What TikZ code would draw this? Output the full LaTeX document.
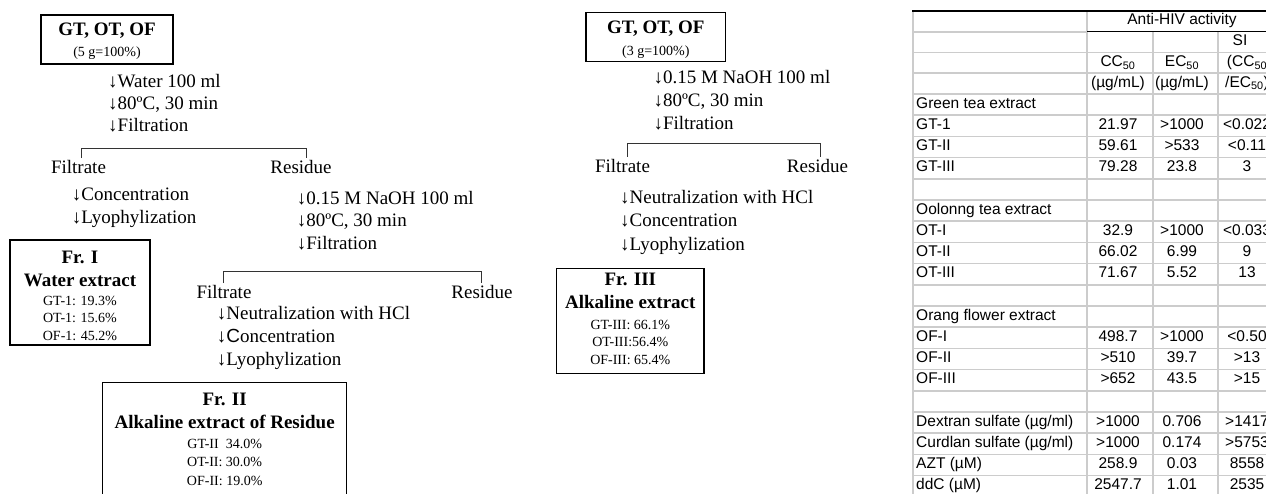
\documentclass[tikz,border=0pt]{standalone}
\usepackage{fontspec}
\setmainfont{Liberation Serif}
\setsansfont{Liberation Sans}

\begin{document}
\begin{tikzpicture}[x=1pt,y=-1pt,
  every node/.style={inner sep=0pt,text height=.66em,text depth=0pt},
  stepline/.style={anchor=west,font=\fontsize{19}{19}\selectfont},
  txt/.style={font=\fontsize{19}{19}\selectfont},
  title/.style={font=\bfseries\fontsize{19}{19}\selectfont},
  small/.style={font=\fontsize{14}{14}\selectfont},
  frbox/.style={draw,line width=1.1pt},
  bracket/.style={draw=black!80,line width=.9pt},
  cell/.style={font=\sffamily\fontsize{15.5}{15.5}\selectfont,text height=.716em},
  grid/.style={draw=black!20,line width=1.6pt},
  rule/.style={draw=black,line width=1.3pt}]
  \clip (0,0) rectangle (1266,493);

  % Water extraction
  \node[frbox,minimum width=132pt,minimum height=49pt] (start1) at (107,39.5) {};
  \node[title] (mix1) at (107,32) {GT, OT, OF};
  \node[small] (amt1) at (107,52.7) {(5 g=100\%)};
  \node[stepline] (w1) at (108,84) {↓Water 100 ml};
  \node[stepline] (w2) at (108,106) {↓80ºC, 30 min};
  \node[stepline] (w3) at (108,128) {↓Filtration};
  \coordinate (b1l) at (81,158);
  \coordinate (b1r) at (306,158);
  \draw[bracket] (b1l) -- ++(0,-10) -| (b1r);
  \node[txt] (filt1) at (78.5,170) {Filtrate};
  \node[txt] (res1) at (301,170) {Residue};
  \node[stepline] (c1) at (71.7,197) {↓Concentration};
  \node[stepline] (l1) at (71.7,220) {↓Lyophylization};
  \node[frbox,minimum width=140pt,minimum height=105pt] (fr1) at (80,292.5) {};
  \node[title] (fr1a) at (80,260) {Fr. I};
  \node[title] (fr1b) at (80,282.7) {Water extract};
  \node[small] (fr1c) at (80,301.7) {GT-1: 19.3\%};
  \node[small] (fr1d) at (80,319) {OT-1: 15.6\%};
  \node[small] (fr1e) at (80,336.7) {OF-1: 45.2\%};

  % alkaline extraction of the residue
  \node[stepline] (n1) at (296.7,201) {↓0.15 M NaOH 100 ml};
  \node[stepline] (n2) at (296.7,223) {↓80ºC, 30 min};
  \node[stepline] (n3) at (296.7,246) {↓Filtration};
  \coordinate (b2l) at (223,283);
  \coordinate (b2r) at (481.7,283);
  \draw[bracket] (b2l) -- ++(0,-11.3) -| (b2r);
  \node[txt] (filt2) at (224,295) {Filtrate};
  \node[txt] (res2) at (482,295) {Residue};
  \node[stepline] (h1) at (216.7,316) {↓Neutralization with HCl};
  \node[stepline] (h2) at (216.7,339) {↓{\sffamily C}oncentration};
  \node[stepline] (h3) at (216.7,362) {↓Lyophylization};
  \node[frbox,minimum width=244pt,minimum height=130pt] (fr2) at (224.7,447.7) {};
  \node[title] (fr2a) at (224.7,401.7) {Fr. II};
  \node[title] (fr2b) at (224.7,425) {Alkaline extract of Residue};
  \node[small] (fr2c) at (224.7,445) {GT-II\ \ 34.0\%};
  \node[small] (fr2d) at (224.7,463) {OT-II: 30.0\%};
  \node[small] (fr2e) at (224.7,481.7) {OF-II: 19.0\%};

  % direct alkaline extraction
  \node[frbox,minimum width=139.7pt,minimum height=49.4pt] (start2) at (655.8,37) {};
  \node[title] (mix2) at (655.8,30) {GT, OT, OF};
  \node[small] (amt2) at (655.8,51.7) {(3 g=100\%)};
  \node[stepline] (a1) at (653.3,80) {↓0.15 M NaOH 100 ml};
  \node[stepline] (a2) at (653.3,103) {↓80ºC, 30 min};
  \node[stepline] (a3) at (653.3,126) {↓Filtration};
  \coordinate (b3l) at (627.3,156.7);
  \coordinate (b3r) at (820.7,156.7);
  \draw[bracket] (b3l) -- ++(0,-13.4) -| (b3r);
  \node[txt] (filt3) at (622.5,169.3) {Filtrate};
  \node[txt] (res3) at (817.5,169.3) {Residue};
  \node[stepline] (k1) at (620,200) {↓Neutralization with HCl};
  \node[stepline] (k2) at (620,223.3) {↓Concentration};
  \node[stepline] (k3) at (620,246.7) {↓Lyophylization};
  \node[frbox,minimum width=147.3pt,minimum height=105pt] (fr3) at (630.3,320.8) {};
  \node[title] (fr3a) at (630.3,281.7) {Fr. III};
  \node[title] (fr3b) at (630.3,305) {Alkaline extract};
  \node[small] (fr3c) at (630.3,326) {GT-III: 66.1\%};
  \node[small] (fr3d) at (630.3,343.3) {OT-III:56.4\%};
  \node[small] (fr3e) at (630.3,361) {OF-III: 65.4\%};

  % table grid
  \foreach \y in {52.5,73.25,94}
    \draw[grid] (913,\y) -- (1290,\y);
  \draw[grid] (913,31.75) -- (1087,31.75);
  \foreach \i in {1,...,19}
    \draw[grid] (913,{94+21.2*\i}) -- (1290,{94+21.2*\i});
  \draw[grid] (913,11) -- (913,500);
  \draw[grid] (1087,11) -- (1087,500);
  \draw[grid] (1153,31.75) -- (1153,500);
  \draw[grid] (1218,31.75) -- (1218,500);
  \draw[rule] (912.2,11) -- (1290,11);
  \draw[rule] (1087,31.75) -- (1290,31.75);

  % table head
  \node[cell] (hiv) at (1182,21.4) {Anti-HIV activity};
  \node[cell] (si) at (1240,42.1) {SI};
  \node[cell] (cc) at (1118,62.9) {CC\textsubscript{50}};
  \node[cell] (ec) at (1182,62.9) {EC\textsubscript{50}};
  \node[cell] (sia) at (1247,62.9) {(CC\textsubscript{50}};
  \node[cell] (ccu) at (1118,83.6) {(µg/mL)};
  \node[cell] (ecu) at (1182,83.6) {(µg/mL)};
  \node[cell] (sib) at (1247,83.6) {/EC\textsubscript{50})};

  % table body
  \foreach \i/\lab in {1/Green tea extract,6/Oolonng tea extract,11/Orang flower extract}
    \node[cell,anchor=west] (grp\i) at (916,{94+21.2*(\i-0.5)}) {\lab};
  \foreach \i/\lab/\a/\b/\c in {2/GT-1/21.97/>1000/<0.022,3/GT-II/59.61/>533/<0.11,
      4/GT-III/79.28/23.8/3,7/OT-I/32.9/>1000/<0.033,8/OT-II/66.02/6.99/9,
      9/OT-III/71.67/5.52/13,12/OF-I/498.7/>1000/<0.50,13/OF-II/>510/39.7/>13,
      14/OF-III/>652/43.5/>15,16/{Dextran sulfate (µg/ml)}/>1000/0.706/>1417,
      17/{Curdlan sulfate (µg/ml)}/>1000/0.174/>5753,18/AZT (µM)/258.9/0.03/8558,
      19/ddC (µM)/2547.7/1.01/2535}{
    \node[cell,anchor=west] (lab\i) at (916,{94+21.2*(\i-0.5)}) {\lab};
    \node[cell] (cc\i) at (1118,{94+21.2*(\i-0.5)}) {\a};
    \node[cell] (ec\i) at (1182,{94+21.2*(\i-0.5)}) {\b};
    \node[cell] (si\i) at (1247,{94+21.2*(\i-0.5)}) {\c};
  }
\end{tikzpicture}
\end{document}
